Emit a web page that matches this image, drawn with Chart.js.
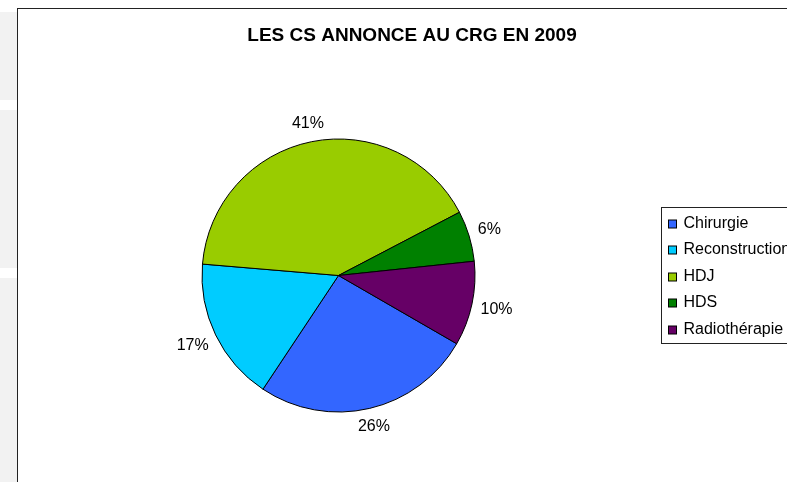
<!DOCTYPE html>
<html>
<head>
<meta charset="utf-8">
<script src="https://cdn.jsdelivr.net/npm/chart.js@4.4.1/dist/chart.umd.min.js"></script>
<style>
    html, body { margin: 0; padding: 0; background: #fff; overflow: hidden; }
    body { width: 787px; height: 482px; position: relative; }
    .bande { position: absolute; left: 0; width: 17px; background: #f2f2f2; }
    #cadre { position: absolute; left: 17px; top: 8px; border-left: 1px solid #222; border-top: 1px solid #222; background: #fff; }
    #zone { position: relative; width: 800px; height: 500px; }
</style>
</head>
<body>
<div class="bande" style="top:12px;height:88px"></div>
<div class="bande" style="top:110px;height:158px"></div>
<div class="bande" style="top:278px;height:204px"></div>
<div id="cadre">
    <div id="zone"><canvas id="camembert"></canvas></div>
</div>
<script>
const titre = 'LES CS ANNONCE AU CRG EN 2009';
const categories = ['Chirurgie', 'Reconstruction', 'HDJ', 'HDS', 'Radiothérapie'];
const valeurs = [26, 17, 41, 6, 10];
const couleurs = ['#3366FF', '#00CCFF', '#99CC00', '#008000', '#660066'];

const police = '"Liberation Sans", Arial, sans-serif';

// Titre, étiquettes en % et légende encadrée (style Excel)
const habillage = {
    id: 'habillage',
    afterDatasetsDraw(chart) {
        const ctx = chart.ctx;
        const meta = chart.getDatasetMeta(0);
        const total = valeurs.reduce((a, b) => a + b, 0);

        ctx.save();
        ctx.fillStyle = '#000';
        ctx.font = '16px ' + police;
        ctx.textAlign = 'center';
        ctx.textBaseline = 'middle';
        meta.data.forEach((arc, i) => {
            const p = arc.getProps(['x', 'y', 'startAngle', 'endAngle', 'outerRadius'], true);
            const milieu = (p.startAngle + p.endAngle) / 2;
            const texte = Math.round(valeurs[i] / total * 100) + '%';
            const w = ctx.measureText(texte).width;
            const d = p.outerRadius + 8 + Math.abs(Math.cos(milieu)) * w / 2 + Math.abs(Math.sin(milieu)) * 7;
            ctx.fillText(texte, p.x + Math.cos(milieu) * d, p.y + Math.sin(milieu) * d);
        });

        // titre
        ctx.font = 'bold 19px ' + police;
        ctx.fillText(titre, 394, 27);

        // légende
        const lx = 643.5, ly = 198.5;
        ctx.strokeStyle = '#222';
        ctx.lineWidth = 1;
        ctx.strokeRect(lx, ly, 160, 136);
        ctx.font = '16px ' + police;
        ctx.textAlign = 'left';
        categories.forEach((nom, i) => {
            const cy = ly + 16 + i * 26.5;
            ctx.fillStyle = couleurs[i];
            ctx.fillRect(lx + 7, Math.round(cy - 4), 8, 8);
            ctx.strokeStyle = '#000';
            ctx.strokeRect(lx + 7, Math.round(cy - 4), 8, 8);
            ctx.fillStyle = '#000';
            ctx.fillText(nom, lx + 22, cy);
        });
        ctx.restore();
    }
};

new Chart(document.getElementById('camembert').getContext('2d'), {
    type: 'pie',
    data: {
        labels: categories,
        datasets: [{
            data: valeurs,
            backgroundColor: couleurs,
            borderColor: '#000',
            borderWidth: 1
        }]
    },
    options: {
        responsive: true,
        maintainAspectRatio: false,
        animation: false,
        events: [],
        rotation: 120,
        layout: {
            padding: { left: 183.5, right: 342.5, top: 129.5, bottom: 96.5 }
        },
        plugins: {
            legend: { display: false },
            title: { display: false },
            tooltip: { enabled: false }
        }
    },
    plugins: [habillage]
});
</script>
</body>
</html>
